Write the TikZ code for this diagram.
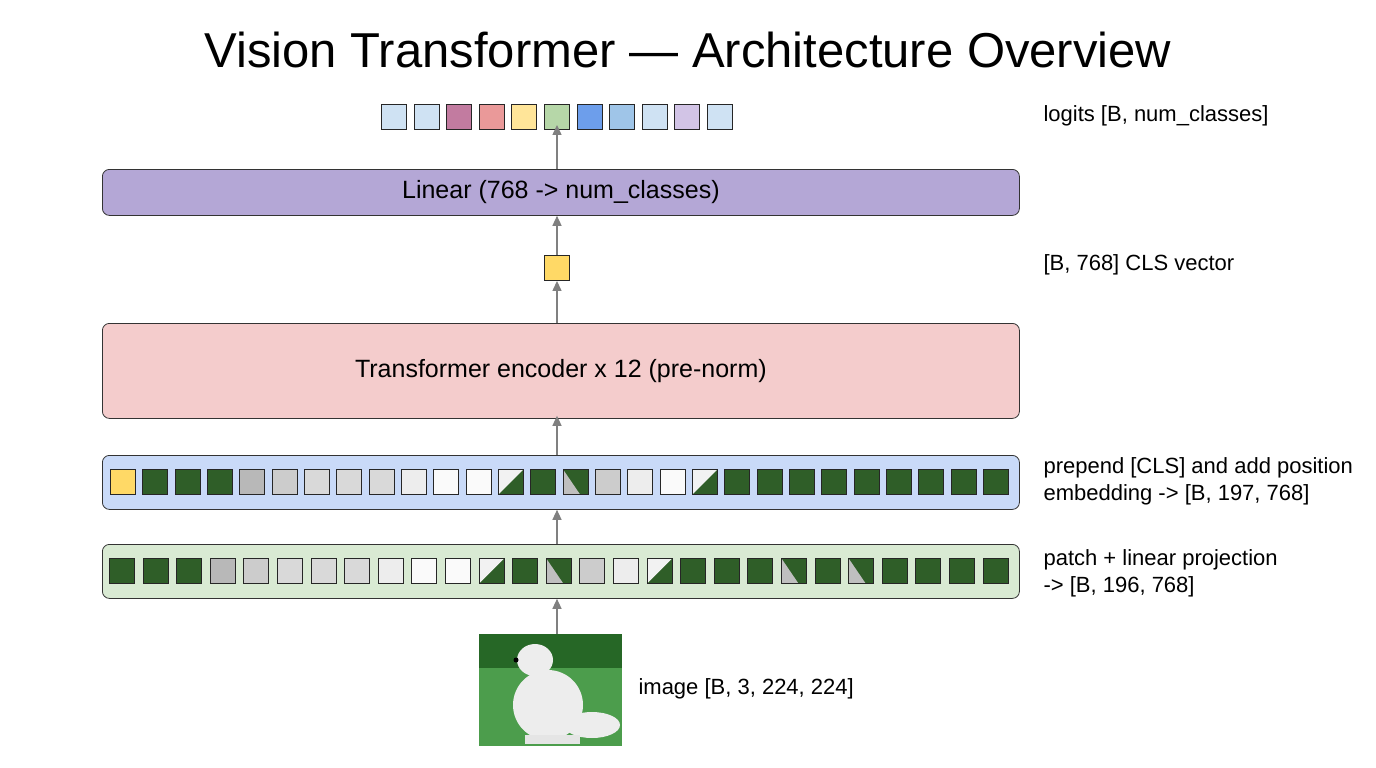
\documentclass[tikz,border=0pt]{standalone}
\usepackage{fontspec}
\setmainfont{Liberation Sans}
\usetikzlibrary{arrows.meta}
\definecolor{lb1}{RGB}{207,226,243}
\definecolor{mauve}{RGB}{194,123,160}
\definecolor{salm}{RGB}{234,153,153}
\definecolor{yel}{RGB}{255,229,153}
\definecolor{grn}{RGB}{182,215,168}
\definecolor{blu}{RGB}{109,158,235}
\definecolor{mblu}{RGB}{159,197,232}
\definecolor{lav}{RGB}{210,196,230}
\definecolor{clsy}{RGB}{255,217,102}
\definecolor{linf}{RGB}{180,167,214}
\definecolor{encf}{RGB}{244,204,204}
\definecolor{embf}{RGB}{201,218,248}
\definecolor{patf}{RGB}{217,234,211}
\definecolor{grass}{RGB}{47,94,40}
\begin{document}
\begin{tikzpicture}[x=1pt,y=-1pt,
  bigbox/.style={draw=black!80,line width=0.8pt,rounded corners=7pt,minimum width=917pt,anchor=north west,inner sep=0pt},
  sq/.style={draw=black!85,line width=0.9pt,minimum size=25pt,inner sep=0pt},
  arr/.style={draw=black!50,line width=1.3pt,-{Triangle[length=10pt,width=9pt]}},
  lbl/.style={anchor=west,font=\fontsize{22}{27}\selectfont,align=left},
  boxtxt/.style={font=\fontsize{25}{30}\selectfont},
  Y/.style={fill=clsy},
  G/.style={fill=grass},
  g1/.style={fill=black!28},
  g2/.style={fill=black!20},
  g3/.style={fill=black!15},
  w1/.style={fill=black!7},
  w2/.style={fill=black!2},
  M/.style={fill=grass,path picture={\fill[white!95!black] (path picture bounding box.north west) -- (path picture bounding box.south west) -- (path picture bounding box.north east) -- cycle;}},
  M2/.style={fill=grass,path picture={\fill[black!25] (path picture bounding box.north west) -- (path picture bounding box.south west) -- ([xshift=-8pt]path picture bounding box.south east) -- cycle;}}
]
\useasboundingbox (0,0) rectangle (1376,768);
\fill[white] (0,0) rectangle (1376,768);
\node[font=\fontsize{49}{54}\selectfont] (title) at (688,50) {Vision Transformer — Architecture Overview};

% logits
\foreach \c [count=\i from 0] in {lb1,lb1,mauve,salm,yel,grn,blu,mblu,lb1,lav,lb1}
  \node[sq,fill=\c] (l\i) at (394+32.6*\i,117) {};
\node[lbl] (tl) at (1040,116) {logits [B, num\_classes]};

\node[bigbox,fill=linf,minimum height=46pt] (lin) at (102,169) {};
\node[boxtxt] at (lin.center) {Linear (768 -> num\_classes)};
\node[sq,fill=clsy] (cls) at (557,268) {};
\node[lbl] (tc) at (1040,265) {[B, 768] CLS vector};

\node[bigbox,fill=encf,minimum height=95pt] (enc) at (102,323) {};
\node[boxtxt] at (enc.center) {Transformer encoder x 12 (pre-norm)};

\node[bigbox,fill=embf,minimum height=54pt] (emb) at (102,455) {};
\foreach \t [count=\i from 0] in {Y,G,G,G,g1,g2,g3,g3,g3,w1,w2,w2,M,G,M2,g2,w1,w2,M,G,G,G,G,G,G,G,G,G}
  \node[sq,\t] (b\i) at (123+32.33*\i,482) {};
\node[lbl] (te) at (1040,481) {prepend [CLS] and add position\\embedding -> [B, 197, 768]};

\node[bigbox,fill=patf,minimum height=54pt] (pat) at (102,544) {};
\foreach \t [count=\i from 0] in {G,G,G,g1,g2,g3,g3,g3,w1,w2,w2,M,G,M2,g2,w1,M,G,G,G,M2,G,M2,G,G,G,G}
  \node[sq,\t] (a\i) at (122+33.6*\i,571) {};
\node[lbl] (tp) at (1040,573) {patch + linear projection\\-> [B, 196, 768]};

% image
\node[minimum width=143pt,minimum height=112pt,inner sep=0pt,fill=green!45!black!70] (img) at (550.5,690) {};
\fill[green!30!black!85] (479,634) rectangle (622,668);
\fill[white!93!black] (535,660) ellipse (18 and 16);
\fill[white!93!black] (548,705) ellipse (35 and 35);
\fill[white!93!black] (592,725) ellipse (28 and 13);
\fill[white!90!black] (525,735) rectangle (580,744);
\fill[black] (516,660) circle (2.5);
\node[lbl] (ti) at (635,689) {image [B, 3, 224, 224]};

\draw[arr] (img.north -| cls) -- (pat.south -| cls);
\draw[arr] (pat.north -| cls) -- (emb.south -| cls);
\draw[arr] (emb.north -| cls) -- ([yshift=3pt]enc.south -| cls);
\draw[arr] (enc.north -| cls) -- (cls.south);
\draw[arr] (cls.north) -- (lin.south -| cls);
\draw[arr] (lin.north -| l5) -- ([yshift=5pt]l5.south);
\end{tikzpicture}
\end{document}
